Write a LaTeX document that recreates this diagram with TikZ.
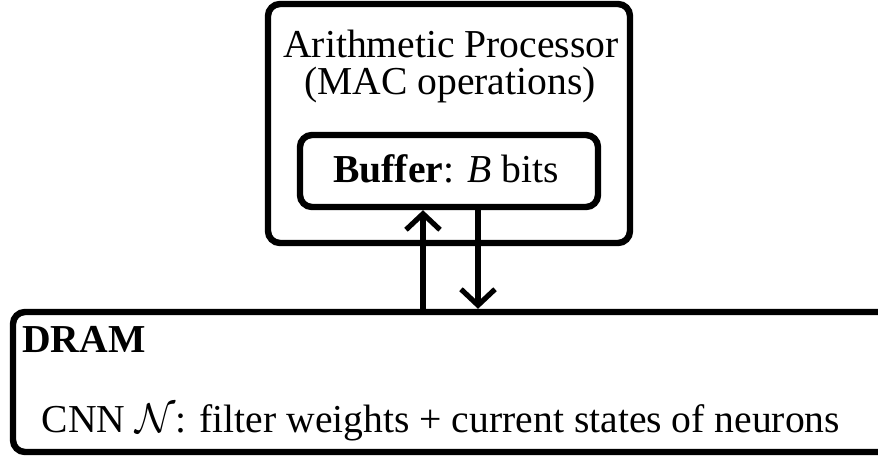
\documentclass[tikz,border=0pt]{standalone}
\usepackage{fontspec}
\setmainfont{Liberation Serif}
\usetikzlibrary{arrows.meta}

\begin{document}
\begin{tikzpicture}[x=0.5pt, y=-0.5pt, box_style/.style={draw=black, line width=3.2pt, rounded corners=6pt, inner sep=0pt},text_style/.style={font=\fontsize{19.8}{23}\selectfont, inner sep=0pt},edge_style/.style={draw=black, line width=2.6pt, -{Straight Barb[length=8pt, width=17pt]}}]
      \useasboundingbox (0,0) rectangle (878,459);
      \clip (0,0) rectangle (878,459);
      \draw
        (449,123.5) node[box_style, minimum width=181pt, minimum height=119.5pt] (proc){}
        (449,171) node[box_style, minimum width=149pt, minimum height=36pt] (buf){}
        (481.5,382) node[box_style, minimum width=468.5pt, minimum height=70pt] (dram){};
      \draw
        (451,58) node[text_style, anchor=base] (proc_name){Arithmetic Processor}
        (450,95) node[text_style, anchor=base] (proc_ops){(MAC operations)}
        (446,183) node[text_style, anchor=base] (buf_text){\textbf{Buffer}: \textit{B} bits}
        (22,353) node[text_style, anchor=base west] (dram_name){\textbf{DRAM}}
        (441,433) node[text_style, anchor=base] (dram_text){CNN $\mathcal{N}$: filter weights + current states of neurons};
      \coordinate (up_x) at (423,0);
      \coordinate (down_x) at (478,0);
      \begin{scope}
        \draw[edge_style] (dram.north -| up_x) to (buf.south -| up_x);
        \draw[edge_style] (buf.south -| down_x) to (dram.north -| down_x);
      \end{scope}
    \end{tikzpicture}
\end{document}
